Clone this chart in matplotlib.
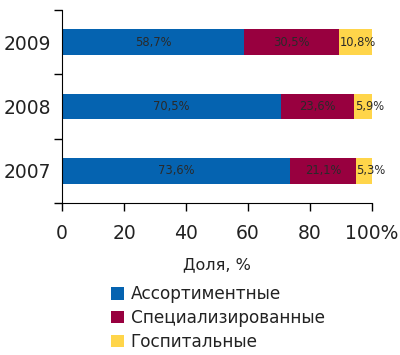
import matplotlib
matplotlib.use("Agg")
import matplotlib.pyplot as plt
import numpy as np
from matplotlib.patches import Patch

years = ["2007", "2008", "2009"]
series_names = ["Ассортиментные", "Специализированные", "Госпитальные"]
assort = [73.6, 70.5, 58.7]
special = [21.1, 23.6, 30.5]
hospital = [5.3, 5.9, 10.8]
colors = ["#0563b0", "#98003f", "#ffd54a"]
xticks = [0, 20, 40, 60, 80, 100]
xticklabels = ["0", "20", "40", "60", "80", "100%"]

plt.rcParams["font.family"] = ["DejaVu Sans"]

fig = plt.figure(figsize=(4.0, 3.55), dpi=100)
ax = fig.add_axes([0.155, 0.428, 0.775, 0.544])

y = np.arange(len(years))
left = np.zeros(len(years))
for k, (vals, col) in enumerate(zip([assort, special, hospital], colors)):
    vals = np.asarray(vals)
    ax.barh(y, vals, left=left, height=0.4, color=col, edgecolor="none")
    for yi, l, v in zip(y, left, vals):
        txt = f"{v:.1f}%".replace(".", ",")
        if k == 2:
            # the narrow last segment: label starts at the segment edge
            ax.text(l + 0.3, yi, txt, ha="left", va="center",
                    fontsize=8.3, color="#2a2a2a")
        else:
            ax.text(l + v / 2, yi, txt, ha="center", va="center",
                    fontsize=8.3, color="#2a2a2a")
    left = left + vals

ax.set_xlim(0, 100)
ax.set_ylim(-0.5, 2.5)
ax.set_xticks(xticks)
ax.set_xticklabels(xticklabels, fontsize=13.5, color="#222222")
ax.set_yticks([-0.5, 0.5, 1.5, 2.5])
ax.set_yticklabels([])
ax.set_yticks(y, minor=True)
ax.set_yticklabels(years, minor=True, fontsize=13.5, color="#222222")
ax.tick_params(axis="y", which="minor", length=0, pad=8)
ax.tick_params(axis="y", which="major", length=6, width=1, direction="out")
ax.tick_params(axis="x", length=6, width=1, pad=9)
for s in ["top", "right"]:
    ax.spines[s].set_visible(False)
ax.set_xlabel("Доля, %", fontsize=11.5, labelpad=10, color="#222222")

handles = [Patch(facecolor=c, edgecolor="none") for c in colors]
leg = fig.legend(handles, series_names, loc="upper left", bbox_to_anchor=(0.257, 0.22),
                 frameon=False, fontsize=12.2, handlelength=0.75, handleheight=0.75,
                 handletextpad=0.4, labelspacing=0.34, borderpad=0)
for t in leg.get_texts():
    t.set_color("#222222")

fig.savefig("out.png", dpi=100)
